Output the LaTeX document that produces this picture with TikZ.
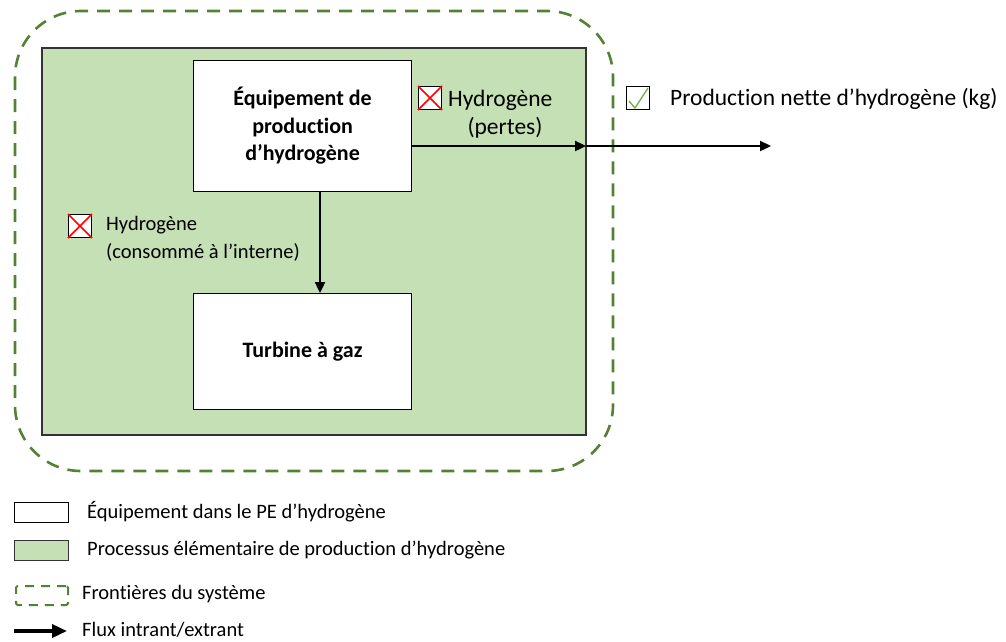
\documentclass[tikz,border=0pt]{standalone}
\usepackage{fontspec}
\setmainfont{Carlito}[Ligatures=NoCommon]
\usetikzlibrary{arrows.meta}
\definecolor{bfill}{HTML}{C5E0B4}
\definecolor{bdash}{HTML}{548235}
\definecolor{ckgreen}{HTML}{70AD47}
\tikzset{
  equip/.style={draw=black, fill=white, line width=1.2pt, inner sep=0pt},
  lbl/.style={font=\fontsize{20.5}{27}\selectfont, inner sep=0pt},
  biglbl/.style={font=\fontsize{23.5}{28}\selectfont, inner sep=0pt},
  flow/.style={line width=2.3pt, -{Triangle[length=11pt,width=10pt]}},
  xbox/.style={draw=black, fill=white, line width=1pt, minimum width=23pt, minimum height=23pt, inner sep=0pt},
  boundary/.style={draw=bdash, line width=2.6pt, dash pattern=on 13pt off 9pt},
}
\begin{document}
\begin{tikzpicture}[x=1pt,y=-1pt]
\useasboundingbox (0,0) rectangle (1006,641);
% system boundary
\draw[boundary, rounded corners=66pt] (15,11) rectangle (613,471);
% process
\draw[fill=bfill, draw=black!80, line width=1.5pt] (42,48) rectangle (586,435);
% equipment boxes
\node[equip, minimum width=218pt, minimum height=131pt, anchor=north west,
  align=center, font=\fontsize{22}{27.5}\selectfont\bfseries] (eq) at (193,60)
  {Équipement de\\production\\d’hydrogène};
\node[equip, minimum width=218pt, minimum height=116pt, anchor=north west,
  font=\fontsize{22}{27}\selectfont\bfseries] (tg) at (193,293) {Turbine à gaz};
% flows
\coordinate (pe) at (586,146);
\coordinate (out) at (771,146);
\draw[flow] (eq.east |- pe) -- (pe);
\draw[flow] (pe) -- (out);
\draw[flow] (eq.south -| 320,0) -- (tg.north -| 320,0);
% loss marker
\node[xbox] (x1) at (430,98) {};
\draw[red, line width=1.5pt] (x1.north west) -- (x1.south east) (x1.north east) -- (x1.south west);
\node[biglbl, anchor=west] (h1) at (448,100) {Hydrogène};
\node[biglbl] (p1) at (505,128) {(pertes)};
% internal consumption marker
\node[xbox] (x2) at (80,226) {};
\draw[red, line width=1.5pt] (x2.north west) -- (x2.south east) (x2.north east) -- (x2.south west);
\node[lbl, anchor=west] (h2) at (106,225) {Hydrogène};
\node[lbl, anchor=west] (c2) at (106,252) {(consommé à l’interne)};
% net production
\node[xbox] (ck) at (638,98) {};
\draw[ckgreen, line width=1.3pt] ([shift={(-9,3)}]ck.center) -- ([shift={(-3,10)}]ck.center) -- ([shift={(10,-10)}]ck.center);
\node[biglbl, anchor=west] (np) at (670,99) {Production nette d’hydrogène (kg)};
% legend
\node[equip, minimum width=54pt, minimum height=20pt, anchor=north west, line width=1pt] (l1) at (14,502) {};
\node[lbl, anchor=west] (t1) at (87,512) {Équipement dans le PE d’hydrogène};
\node[draw=black!80, fill=bfill, line width=1.3pt, minimum width=54pt, minimum height=20pt, anchor=north west] (l2) at (14,540) {};
\node[lbl, anchor=west] (t2) at (87,550) {Processus élémentaire de production d’hydrogène};
\node[draw=bdash, line width=2pt, dash pattern=on 9pt off 7pt, minimum width=52pt, minimum height=19pt, anchor=north west, rounded corners=2pt] (l3) at (15,585) {};
\node[lbl, anchor=west] (t3) at (82,594) {Frontières du système};
\coordinate (l4a) at (14,631);
\coordinate (l4b) at (67,631);
\draw[line width=3.5pt, -{Triangle[length=15pt,width=13pt]}] (l4a) -- (l4b);
\node[lbl, anchor=west] (t4) at (82,630) {Flux intrant/extrant};
\end{tikzpicture}
\end{document}
